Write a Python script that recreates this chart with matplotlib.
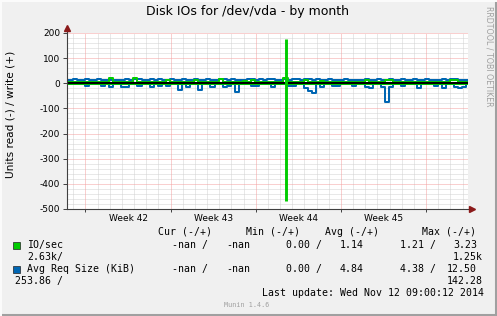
import matplotlib
matplotlib.use("Agg")
import matplotlib.pyplot as plt
from matplotlib.patches import Rectangle
import numpy as np

W, H, DPI = 497, 316, 100

TITLE = "Disk IOs for /dev/vda - by month"
Y_LABEL = "Units read (-) / write (+)"
WEEK_LABELS = ["Week 42", "Week 43", "Week 44", "Week 45"]
WEEK_STARTS = [0, 7, 14, 21, 28]          # days since Mon, start of week 42
Y_TICKS = [-500, -400, -300, -200, -100, 0, 100, 200]

# 8-hour samples, first one 1.56 days before week 42 begins
FIRST_DAY = -1.56
STEP_DAYS = 1 / 3

avg_req_write = [
    12, 12, 16, 12, 12, 16, 12, 12, 16, 12,
    12, 12, 12, 12, 12, 16, 12, 16, 16, 12,
    12, 16, 12, 16, 12, 12, 16, 12, 12, 16,
    12, 12, 16, 12, 12, 16, 12, 12, 16, 16,
    12, 16, 12, 12, 12, 16, 16, 12, 16, 12,
    16, 16, 12, 12, 16, 12, 16, 16, 12, 16,
    16, 12, 16, 12, 12, 16, 12, 12, 12, 16,
    12, 12, 12, 12, 16, 12, 12, 16, 12, 12,
    16, 12, 12, 16, 12, 12, 16, 12, 12, 16,
    12, 12, 12, 16, 12, 16, 16, 12, 12, 12,
]
avg_req_read = [
    -4, -4, -4, -4, -4, -12, -4, -4, -4, -12,
    -4, -15, -4, -4, -15, -15, -4, -4, -12, -4,
    -4, -15, -4, -12, -4, -12, -4, -4, -25, -4,
    -15, -4, -4, -25, -4, -4, -15, -4, -4, -15,
    -12, -4, -35, -4, -4, -4, -12, -12, -4, -4,
    -4, -15, -4, -4, -4, -12, -12, -4, -4, -18,
    -30, -40, -4, -15, -4, -4, -12, -10, -4, -4,
    -4, -12, -4, -4, -15, -20, -4, -4, -15, -73,
    -15, -4, -4, -12, -4, -4, -4, -20, -4, -4,
    -4, -12, -4, -20, -4, -4, -15, -20, -15, -4,
]
io_write = [
    5, 5, 5, 5, 5, 5, 5, 5, 5, 5,
    5, 20, 5, 5, 5, 5, 5, 20, 5, 5,
    5, 5, 5, 5, 5, 14, 5, 5, 5, 5,
    5, 5, 12, 5, 5, 5, 5, 5, 16, 5,
    5, 5, 5, 5, 10, 5, 12, 5, 5, 5,
    5, 5, 5, 5, 20, 5, 5, 5, 5, 12,
    5, 5, 5, 10, 5, 5, 5, 5, 5, 5,
    5, 5, 5, 5, 12, 5, 5, 5, 5, 12,
    12, 5, 5, 5, 5, 5, 5, 5, 5, 5,
    5, 5, 5, 5, 5, 12, 12, 5, 5, 5,
]
io_read = [
    -1, -1, -1, -1, -1, -1, -1, -1, -1, -1,
    -1, -1, -1, -1, -1, -1, -1, -1, -1, -1,
    -1, -1, -1, -1, -1, -1, -1, -1, -1, -1,
    -1, -1, -1, -1, -1, -1, -1, -1, -1, -1,
    -1, -1, -1, -1, -1, -1, -1, -1, -1, -1,
    -1, -1, -1, -1, -1, -1, -1, -1, -1, -1,
    -1, -1, -1, -1, -1, -1, -1, -1, -1, -1,
    -1, -1, -1, -1, -1, -1, -1, -1, -1, -1,
    -1, -1, -1, -1, -1, -1, -1, -1, -1, -1,
    -1, -1, -1, -1, -1, -1, -1, -1, -1, -1,
]
# one short burst of IO in week 44
io_peak_day = 16.5
io_peak_write = 175
io_peak_read = -467

GREEN = "#00CC00"
BLUE = "#0066B3"
BG = "#F0F0F0"

legend_rows = [
    # (y px, [(x px, text), ...])
    (232, [(158, "Cur (-/+)"), (246, "Min (-/+)"), (325, "Avg (-/+)"), (422.5, "Max (-/+)")]),
    (245, [(27, "IO/sec"), (172.5, "-nan /"), (226, "-nan"), (286, "0.00 /"),
           (340, "1.14"), (400.5, "1.21 /"), (453, "3.23")]),
    (257, [(27, "2.63k/"), (453, "1.25k")]),
    (269, [(27, "Avg Req Size (KiB)"), (172.5, "-nan /"), (226, "-nan"), (286, "0.00 /"),
           (340, "4.84"), (400.5, "4.38 /"), (447, "12.50")]),
    (281, [(15, "253.86 /"), (447, "142.28")]),
    (293, [(262.5, "Last update: Wed Nov 12 09:00:12 2014")]),
]


def px(x, y):
    return x / W, 1 - y / H


fig = plt.figure(figsize=(W / DPI, H / DPI), dpi=DPI, facecolor=BG)

# plot area: x 66.5..468, y 33 (200) .. 209 (-500)
left, right, top, bottom = 66.5, 468, 33, 209
ax = fig.add_axes([left / W, 1 - bottom / H, (right - left) / W, (bottom - top) / H])
ax.set_facecolor("white")
ax.set_xlim(FIRST_DAY, FIRST_DAY + 33)
ax.set_ylim(-500, 200)

for s in ax.spines.values():
    s.set_visible(False)

# grid
dot = (0, (1, 1))
for d in np.arange(np.ceil(FIRST_DAY), FIRST_DAY + 33):
    if d in WEEK_STARTS:
        continue
    ax.axvline(d, color="#D2D2D2", lw=0.72, ls=dot, zorder=0)
for v in range(-500, 201, 20):
    if v % 100:
        ax.axhline(v, color="#D2D2D2", lw=0.72, ls=dot, zorder=0)
for d in WEEK_STARTS:
    ax.axvline(d, color="#F5A0A0", lw=0.72, ls=dot, zorder=0.5)
for v in Y_TICKS:
    ax.axhline(v, color="#F5A0A0", lw=0.72, ls=dot, zorder=0.5)

t = FIRST_DAY + np.arange(len(io_write)) * STEP_DAYS
lw = 1.44
ax.plot(t, avg_req_write, drawstyle="steps-mid", color=BLUE, lw=lw, zorder=2)
ax.plot(t, avg_req_read, drawstyle="steps-mid", color=BLUE, lw=lw, zorder=2)
ax.plot(t, io_write, drawstyle="steps-mid", color=GREEN, lw=lw, zorder=3)
ax.plot(t, io_read, drawstyle="steps-mid", color=GREEN, lw=lw, zorder=3)
ax.axhline(0, color="black", lw=1.5, zorder=4)
ax.vlines(io_peak_day, io_peak_read, io_peak_write, color=GREEN, lw=2.1, zorder=5)

# axes with arrows
ax.plot([0, 0], [0, 1.03], transform=ax.transAxes, color="#404040", lw=0.8, clip_on=False, zorder=6)
ax.plot([0, 1.005], [0, 0], transform=ax.transAxes, color="#404040", lw=0.8, clip_on=False, zorder=6)
ax.plot([0], [1.03], marker="^", ms=4.5, color="#8B1A1A", transform=ax.transAxes, clip_on=False, zorder=7)
ax.plot([1.01], [0], marker=">", ms=4.5, color="#8B1A1A", transform=ax.transAxes, clip_on=False, zorder=7)

ax.set_yticks(Y_TICKS)
ax.set_yticklabels([str(v) for v in Y_TICKS], fontsize=6.5)
ax.set_xticks(WEEK_STARTS)
ax.set_xticklabels([])
ax.tick_params(axis="y", length=3, width=0.7, color="#404040", pad=1.5, direction="out")
ax.tick_params(axis="x", length=2, width=0.7, color="#404040", direction="out")
for i, lab in enumerate(WEEK_LABELS):
    ax.text(WEEK_STARTS[i] + 3.5, -9.5 / 176, lab, transform=ax.get_xaxis_transform(),
            ha="center", va="center", fontsize=6.5)

fig.text(*px(248, 12), TITLE, ha="center", va="center", fontsize=9)
fig.text(*px(11, 114), Y_LABEL, ha="center", va="center", rotation=90, fontsize=7.6)
fig.text(*px(488.5, 56), "RRDTOOL / TOBI OETIKER", ha="center", va="center",
         rotation=270, fontsize=5.7, color="#A0A0A0")

mono = "DejaVu Sans Mono"
for y, items in legend_rows:
    for x, s in items:
        fig.text(*px(x, y), s, ha="left", va="center", fontsize=7.1, family=mono)
fig.text(*px(224, 305), "Munin 1.4.6", ha="left", va="center", fontsize=4.9,
         family=mono, color="#A0A0A0")

for y, c in [(245, GREEN), (269, BLUE)]:
    fig.patches.append(Rectangle(px(13, y + 3.5), 7 / W, 7 / H, transform=fig.transFigure,
                                 facecolor=c, edgecolor="#222222", lw=0.5))

# frame shading
fig.add_artist(plt.Line2D([0, 1], [1.5 / H, 1.5 / H], color="#A0A0A0", lw=2.2))
fig.add_artist(plt.Line2D([1 - 1.5 / W, 1 - 1.5 / W], [0, 1], color="#A0A0A0", lw=2.2))
fig.add_artist(plt.Line2D([0, 1], [1 - 1 / H, 1 - 1 / H], color="#FCFCFC", lw=1.4))
fig.add_artist(plt.Line2D([1 / W, 1 / W], [0, 1], color="#FCFCFC", lw=1.4))

fig.savefig("out.png", dpi=DPI, facecolor=BG)
